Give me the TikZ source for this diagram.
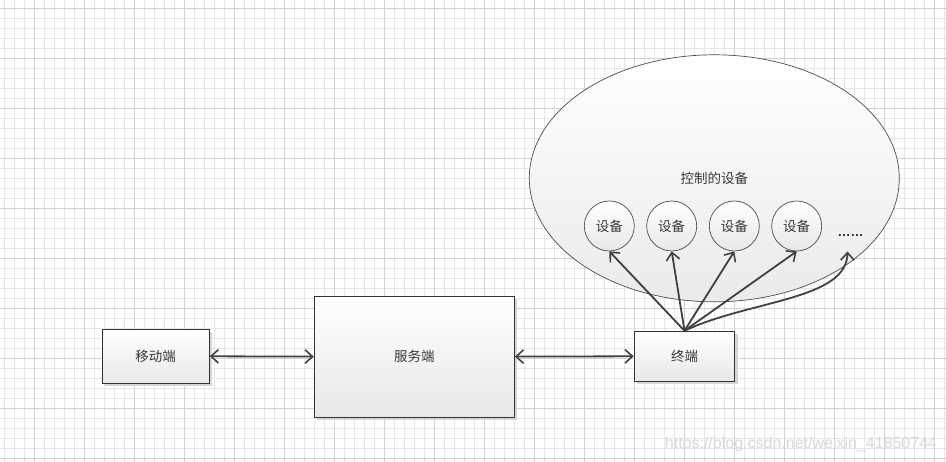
\documentclass[tikz,border=0pt]{standalone}
\usepackage{fontspec}
\setmainfont{Liberation Sans}
\newfontfamily\cjk{Noto Sans CJK SC}
\usetikzlibrary{arrows.meta,shadows,shapes.geometric}
\definecolor{linec}{HTML}{404040}
\definecolor{gridminor}{HTML}{E6E6E6}
\definecolor{gridmajor}{HTML}{D2D2D2}
\begin{document}
\begin{tikzpicture}[x=1pt,y=-1pt,
  cjkfont/.style={font=\cjk\fontsize{13.5}{16}\selectfont, text=black!78},
  box/.style={draw=black!80, line width=1.1pt, top color=white, bottom color=black!9,
    inner sep=0pt, cjkfont,
    drop shadow={shadow xshift=3pt, shadow yshift=-3pt, fill=black!16, opacity=1}},
  cloud/.style={ellipse, draw=black!70, line width=0.7pt, top color=white, bottom color=black!8,
    inner sep=0pt, minimum width=370pt, minimum height=247pt, cjkfont},
  dev/.style={circle, draw=black!70, line width=0.7pt, top color=white, bottom color=black!9,
    inner sep=0pt, minimum size=50pt, cjkfont},
  conn/.style={draw=linec, line width=1.8pt},
  tip/.tip={Straight Barb[length=7.5pt,width=13.5pt,line width=1.6pt]},
]
\fill[white] (0,0) rectangle (946,462);
\useasboundingbox (0,0) rectangle (946,462);
% grid
\foreach \k in {0,...,94} \draw[gridminor, line width=0.8pt] (4.3+10*\k,0) -- (4.3+10*\k,462);
\foreach \k in {0,...,45} \draw[gridminor, line width=0.8pt] (0,8.3+10*\k) -- (946,8.3+10*\k);
\foreach \k in {0,...,18} \draw[gridmajor, line width=0.8pt] (34.3+50*\k,0) -- (34.3+50*\k,462);
\foreach \k in {0,...,9} \draw[gridmajor, line width=0.8pt] (0,8.3+50*\k) -- (946,8.3+50*\k);

% ellipse
\node[cloud] (ctl) at (714.3,178.3) {控制的设备};
\node[dev] (d1) at (609.3,226) {设备};
\node[dev] (d2) at (671.7,226) {设备};
\node[dev] (d3) at (734.3,226) {设备};
\node[dev] (d4) at (796.7,226) {设备};
\node[anchor=base, font=\bfseries\fontsize{13}{15}\selectfont, text=black!85, inner sep=0pt] (more) at (850.5,236.5) {……};
\coordinate (moreend) at (847.5,251.5);

% boxes
\node[box, minimum width=107pt, minimum height=54pt] (mob) at (155.7,356.3) {移动端};
\node[box, minimum width=200pt, minimum height=121pt] (srv) at (414.3,356.6) {服务端};
\node[box, minimum width=100.5pt, minimum height=50pt] (term) at (684.5,356.3) {终端};

% connectors
\draw[conn, {tip}-{tip}] (mob.east) -- (srv.west);
\draw[conn, {tip}-{tip}] (srv.east) -- (term.west);
\draw[conn, -{tip}] (term.north) -- (d1.south);
\draw[conn, -{tip}] (term.north) -- (d2.south);
\draw[conn, -{tip}] (term.north) -- (d3.south);
\draw[conn, -{tip}] (term.north) -- (d4.south);
\draw[conn, -{tip}] (term.north) .. controls (750,300) and (847,300) .. (moreend);

% watermark
\node[font=\fontsize{16}{18}\selectfont, text=black!15, inner sep=0pt] (wm) at (801,444) {https://blog.csdn.net/weixin\_41850744};
\end{tikzpicture}
\end{document}
